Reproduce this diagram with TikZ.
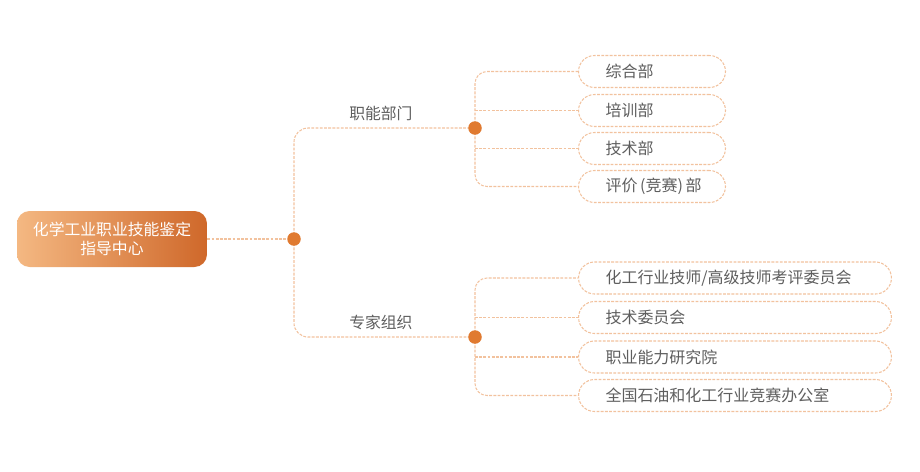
\documentclass[tikz,border=0pt]{standalone}
\usepackage{fontspec}
\setmainfont{Noto Sans CJK SC}
\usepackage{xcolor}
\usetikzlibrary{positioning}
\definecolor{linkline}{HTML}{F2C29E}
\definecolor{hubdot}{HTML}{E07A30}
\definecolor{greytext}{HTML}{5E5E5E}
\definecolor{rootleft}{HTML}{F4B882}
\definecolor{rootright}{HTML}{CF682A}
\pgfdeclarelayer{bg}
\pgfsetlayers{bg,main}
\tikzset{every node/.style={align=center}}

\begin{document}
\begin{tikzpicture}[x=0.02cm, y=-0.02cm,
    link/.style={draw=linkline, line width=0.6pt, dash pattern=on 1.6pt off 0.8pt},
    hub/.style={circle, fill=hubdot, inner sep=0pt, minimum size=0.27cm},
    leaf/.style={link, fill=white, rounded corners=0.32cm, minimum height=0.64cm,
                 inner xsep=0.54cm, inner ysep=0pt, align=left, anchor=west,
                 text=greytext, font=\fontsize{9.1}{10}\selectfont},
    tag/.style={text=greytext, font=\fontsize{9}{10}\selectfont, inner sep=3.6pt}
]
  \useasboundingbox (0,0) rectangle (920,471);

  % --- root and hubs ---
  \node[rounded corners=0.25cm, left color=rootleft, right color=rootright,
        minimum width=3.8cm, minimum height=1.12cm, text=white,
        font=\fontsize{9}{11}\selectfont] (root) at (112,239)
        {化学工业职业技能鉴定\\指导中心};
  \node[hub] (H0) at (294,239) {};
  \node[hub] (H1) at (475,128) {};
  \node[hub] (H2) at (475,337) {};

  % --- 职能部门 ---
  \node[leaf, text width=1.86cm] (ZH) at (578,71.5)  {综合部};
  \node[leaf, text width=1.86cm] (PX) at (578,110.5) {培训部};
  \node[leaf, text width=1.86cm] (JS) at (578,148.5) {技术部};
  \node[leaf, text width=1.86cm] (PJ) at (578,186.5) {\mbox{评价\,(竞赛)\,部}};

  % --- 专家组织 ---
  \node[leaf, text width=5.18cm] (KP) at (578,278)   {化工行业技师/高级技师考评委员会};
  \node[leaf, text width=5.18cm] (WY) at (578,317.5) {技术委员会};
  \node[leaf, text width=5.18cm] (YJ) at (578,357)   {职业能力研究院};
  \node[leaf, text width=5.18cm] (BG) at (578,395.5) {全国石油和化工行业竞赛办公室};

  \begin{pgfonlayer}{bg}
    \draw[link] (root) -- (H0);
    \draw[link, rounded corners=0.28cm] (H0.center) |- node[tag, pos=0.74, above]{职能部门} (H1.center);
    \draw[link, rounded corners=0.28cm] (H0.center) |- node[tag, pos=0.74, above]{专家组织} (H2.center);

    \draw[link, rounded corners=0.24cm] (H1.center) |- (ZH.west);
    \draw[link] (H1.center |- PX.west) -- (PX.west);
    \draw[link] (H1.center |- JS.west) -- (JS.west);
    \draw[link, rounded corners=0.24cm] (H1.center) |- (PJ.west);

    \draw[link, rounded corners=0.24cm] (H2.center) |- (KP.west);
    \draw[link] (H2.center |- WY.west) -- (WY.west);
    \draw[link] (H2.center |- YJ.west) -- (YJ.west);
    \draw[link, rounded corners=0.24cm] (H2.center) |- (BG.west);
  \end{pgfonlayer}
\end{tikzpicture}
\end{document}
